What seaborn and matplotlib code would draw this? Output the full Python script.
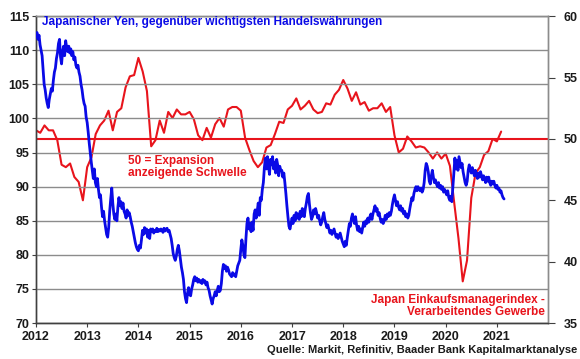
import numpy as np
import pandas as pd
import matplotlib
matplotlib.use("Agg")
import matplotlib.pyplot as plt
import seaborn as sns

# ---------------- data ----------------
years = [2012, 2013, 2014, 2015, 2016, 2017, 2018, 2019, 2020, 2021]
year_labels = ["2012", "2013", "2014", "2015", "2016", "2017", "2018", "2019", "2020", "2021"]

# Japan manufacturing PMI, monthly from Jan 2012 to Feb 2021
pmi_values = [
    50.7, 50.5, 51.1, 50.7, 50.7, 49.9, 47.9, 47.7, 48.0, 46.9, 46.5, 45.0,
    47.7, 48.5, 50.4, 51.1, 51.5, 52.3, 50.7, 52.2, 52.5, 54.2, 55.1, 55.2,
    56.6, 55.5, 53.9, 49.4, 49.9, 51.5, 50.5, 52.2, 51.7, 52.4, 52.0, 52.0,
    52.2, 51.6, 50.3, 49.9, 50.9, 50.1, 51.2, 51.7, 51.0, 52.4, 52.6, 52.6,
    52.3, 50.1, 49.1, 48.2, 47.7, 48.1, 49.3, 49.5, 50.4, 51.4, 51.3, 52.4,
    52.7, 53.3, 52.4, 52.7, 53.1, 52.4, 52.1, 52.2, 52.9, 52.8, 53.6, 54.0,
    54.8, 54.1, 53.1, 53.8, 52.8, 53.0, 52.3, 52.5, 52.5, 52.9, 52.2, 52.6,
    50.3, 48.9, 49.2, 50.2, 49.8, 49.3, 49.4, 49.3, 48.9, 48.4, 48.9, 48.4,
    48.8, 47.8, 44.8, 41.9, 38.4, 40.1, 45.2, 47.2, 47.7, 48.7, 49.0, 50.0,
    49.8, 50.6,
]
pmi_time = [2012 + i / 12 for i in range(len(pmi_values))]

# Japanese yen, trade-weighted index (~every week)
yen_start = 2012.0
yen_step = 0.02
yen_values = [
    112.0, 112.6, 111.6, 112.2, 110.8, 110.0, 109.2, 107.0, 105.0, 104.2,
    103.0, 102.2, 101.6, 102.8, 103.6, 104.4, 104.0, 105.6, 106.8, 107.4,
    108.8, 109.6, 111.0, 111.6, 109.0, 108.0, 109.8, 110.6, 109.2, 111.4,
    110.4, 109.8, 110.6, 109.6, 110.2, 109.2, 109.8, 108.6, 109.0, 107.8,
    107.4, 107.8, 106.8, 106.2, 105.0, 104.2, 103.0, 102.2, 101.8, 100.2,
    # 2013
    99.4, 98.0, 96.4, 95.0, 93.6, 92.4, 91.2, 92.6, 90.6, 90.0,
    91.2, 89.6, 88.4, 88.8, 87.0, 85.6, 86.4, 85.0, 84.0, 83.0,
    82.6, 84.0, 86.4, 88.2, 89.8, 87.6, 86.0, 85.2, 86.0, 85.0,
    87.0, 88.4, 87.2, 87.8, 86.8, 87.6, 86.4, 86.0, 85.4, 86.6,
    85.8, 86.2, 85.6, 84.8, 84.2, 83.4, 82.6, 81.8, 81.2, 80.8,
    # 2014
    80.6, 81.4, 81.0, 82.2, 83.6, 83.0, 84.0, 83.2, 83.8, 82.6,
    83.6, 82.4, 83.8, 83.4, 83.8, 83.2, 83.6, 83.4, 83.9, 83.4,
    83.7, 83.5, 83.8, 83.6, 83.3, 83.9, 83.5, 83.8, 83.9, 83.4,
    83.6, 83.0, 82.4, 81.4, 80.2, 79.6, 79.2, 79.8, 80.8, 81.4,
    80.6, 79.4, 78.2, 77.4, 76.4, 74.6, 73.6, 73.0, 74.4, 75.2,
    # 2015
    74.2, 74.0, 75.0, 75.6, 76.4, 76.8, 76.2, 76.6, 76.0, 76.4,
    76.0, 76.2, 75.8, 76.4, 76.0, 76.2, 75.6, 76.0, 75.2, 74.8,
    74.0, 73.4, 72.8, 73.6, 74.0, 74.6, 74.0, 74.8, 75.4, 74.6,
    74.8, 75.8, 77.6, 78.6, 78.0, 78.4, 77.6, 78.2, 77.8, 77.2,
    77.0, 76.8, 77.4, 77.0, 77.2, 76.8, 77.6, 78.4, 78.8, 79.2,
    # 2016
    80.8, 82.2, 81.4, 80.0, 79.6, 82.4, 84.6, 85.4, 83.8, 84.6,
    83.4, 84.8, 83.6, 86.0, 86.6, 85.4, 86.4, 87.6, 85.8, 88.4,
    88.0, 89.6, 90.6, 92.8, 94.2, 92.6, 94.4, 93.0, 91.8, 94.0,
    93.2, 94.4, 92.6, 93.6, 92.0, 94.0, 93.2, 91.6, 93.0, 92.4,
    92.4, 91.4, 92.0, 90.6, 89.0, 87.2, 85.6, 84.2, 83.8, 84.6,
    # 2017
    85.4, 84.6, 85.8, 85.0, 86.2, 85.4, 86.0, 85.2, 86.4, 85.6,
    86.8, 86.0, 85.6, 86.8, 87.6, 88.6, 89.0, 87.4, 86.2, 85.2,
    85.6, 86.6, 86.0, 86.8, 86.2, 85.4, 85.8, 85.0, 84.4, 84.8,
    85.6, 86.2, 85.2, 84.6, 84.0, 84.4, 83.8, 83.2, 83.6, 83.0,
    83.4, 83.8, 83.2, 82.6, 83.0, 82.4, 82.8, 83.2, 82.6, 82.0,
    # 2018
    81.6, 81.2, 82.0, 81.4, 82.6, 83.6, 84.6, 84.2, 85.4, 86.0,
    85.2, 84.6, 85.6, 84.4, 83.6, 84.2, 83.4, 83.8, 83.2, 84.0,
    84.8, 84.2, 85.0, 84.6, 85.4, 84.8, 85.6, 86.0, 85.2, 86.0,
    86.6, 87.2, 86.4, 86.8, 85.8, 86.2, 85.4, 84.8, 85.2, 84.6,
    85.0, 85.8, 85.2, 86.0, 85.6, 86.2, 85.8, 86.4, 87.4, 88.2,
    # 2019
    88.8, 88.0, 87.2, 87.8, 87.0, 86.6, 87.2, 86.4, 86.8, 86.0,
    86.4, 85.6, 86.0, 85.4, 85.8, 86.8, 87.6, 88.4, 88.0, 89.0,
    89.6, 90.0, 89.4, 90.0, 89.6, 89.4, 89.8, 89.2, 89.6, 90.6,
    92.4, 93.4, 93.0, 92.2, 90.8, 90.4, 91.6, 92.4, 91.4, 90.6,
    91.0, 90.4, 90.0, 90.6, 89.8, 90.2, 89.6, 90.0, 89.2, 89.6,
    # 2020
    89.2, 88.8, 89.4, 88.4, 88.0, 88.6, 87.8, 89.8, 92.0, 94.2,
    92.6, 93.8, 92.4, 94.4, 93.6, 92.8, 93.4, 92.2, 91.4, 90.6,
    90.2, 90.8, 92.4, 93.2, 92.6, 92.0, 92.8, 92.2, 91.6, 92.4,
    91.8, 91.2, 92.0, 91.4, 92.2, 91.6, 91.0, 91.6, 91.2, 90.6,
    91.4, 90.8, 91.4, 90.6, 90.2, 90.8, 90.4, 90.8, 90.2, 89.8,
    # 2021
    90.2, 89.6, 89.8, 89.2, 89.4, 88.8, 88.4, 88.2,
]
yen_time = [yen_start + i * yen_step for i in range(len(yen_values))]

threshold = 50

yen_df = pd.DataFrame({"t": yen_time, "v": yen_values})
pmi_df = pd.DataFrame({"t": pmi_time, "v": pmi_values})

# ---------------- style ----------------
sns.set_theme(style="white")
plt.rcParams["font.family"] = ["Liberation Sans", "DejaVu Sans"]
plt.rcParams["font.weight"] = "bold"

BLUE = "#0a0ae6"
RED = "#e8141c"
GRID = "#8c8c8c"

fig = plt.figure(figsize=(5.8, 3.59), dpi=100)
ax = fig.add_axes([0.062, 0.100, 0.883, 0.855])
ax2 = ax.twinx()

# grid (left axis)
ax.set_ylim(70, 115)
ax.set_yticks(np.arange(70, 116, 5))
ax.yaxis.grid(True, color=GRID, linewidth=1.0)
ax.xaxis.grid(False)

sns.lineplot(data=yen_df, x="t", y="v", ax=ax, color=BLUE, linewidth=2.0,
             zorder=3)

ax2.set_ylim(35, 60)
ax2.set_yticks(np.arange(35, 61, 5))
ax2.axhline(threshold, color=RED, linewidth=1.5, zorder=2)
sns.lineplot(data=pmi_df, x="t", y="v", ax=ax2, color=RED, linewidth=1.5,
             zorder=2)

# put blue above red
ax.set_zorder(ax2.get_zorder() + 1)
ax.patch.set_visible(False)

ax.set_xlim(2012, 2022)
ax.set_xticks(years)
ax.set_xticklabels(year_labels)
for a in (ax, ax2):
    a.set_xlabel("")
    a.set_ylabel("")

ax.tick_params(axis="x", direction="out", length=3, width=0.8, color="#404040",
               labelsize=9, pad=3, bottom=True)
ax.tick_params(axis="y", direction="out", length=3, width=0.8, color="#404040",
               labelsize=9, pad=2, left=True)
ax2.tick_params(axis="y", direction="out", length=5, width=0.8, color="#404040",
                labelsize=9, pad=6, right=True)
for lab in ax.get_xticklabels() + ax.get_yticklabels() + ax2.get_yticklabels():
    lab.set_fontweight("bold")
    lab.set_color("#1a1a1a")

for a in (ax, ax2):
    for s in a.spines.values():
        s.set_linewidth(1.0)
    a.spines["left"].set_color("#404040")
    a.spines["bottom"].set_color("#404040")
    a.spines["top"].set_color(GRID)
    a.spines["right"].set_color(GRID)

# texts
fig.text(42 / 580, 1 - 22 / 359, "Japanischer Yen, gegenüber wichtigsten Handelswährungen",
         color=BLUE, fontsize=8.5, fontweight="bold", ha="left", va="center")
fig.text(128 / 580, 1 - 167 / 359, "50 = Expansion\nanzeigende Schwelle",
         color=RED, fontsize=8.5, fontweight="bold", ha="left", va="center",
         linespacing=1.05)
fig.text(545 / 580, 1 - 306 / 359, "Japan Einkaufsmanagerindex -\nVerarbeitendes Gewerbe",
         color=RED, fontsize=8.5, fontweight="bold", ha="right", va="center",
         linespacing=1.05, multialignment="right")
fig.text(577 / 580, 1 - 350 / 359, "Quelle: Markit, Refinitiv, Baader Bank Kapitalmarktanalyse",
         color="#1a1a1a", fontsize=8, fontweight="bold", ha="right", va="center")

fig.savefig("out.png", dpi=100, facecolor="white")
